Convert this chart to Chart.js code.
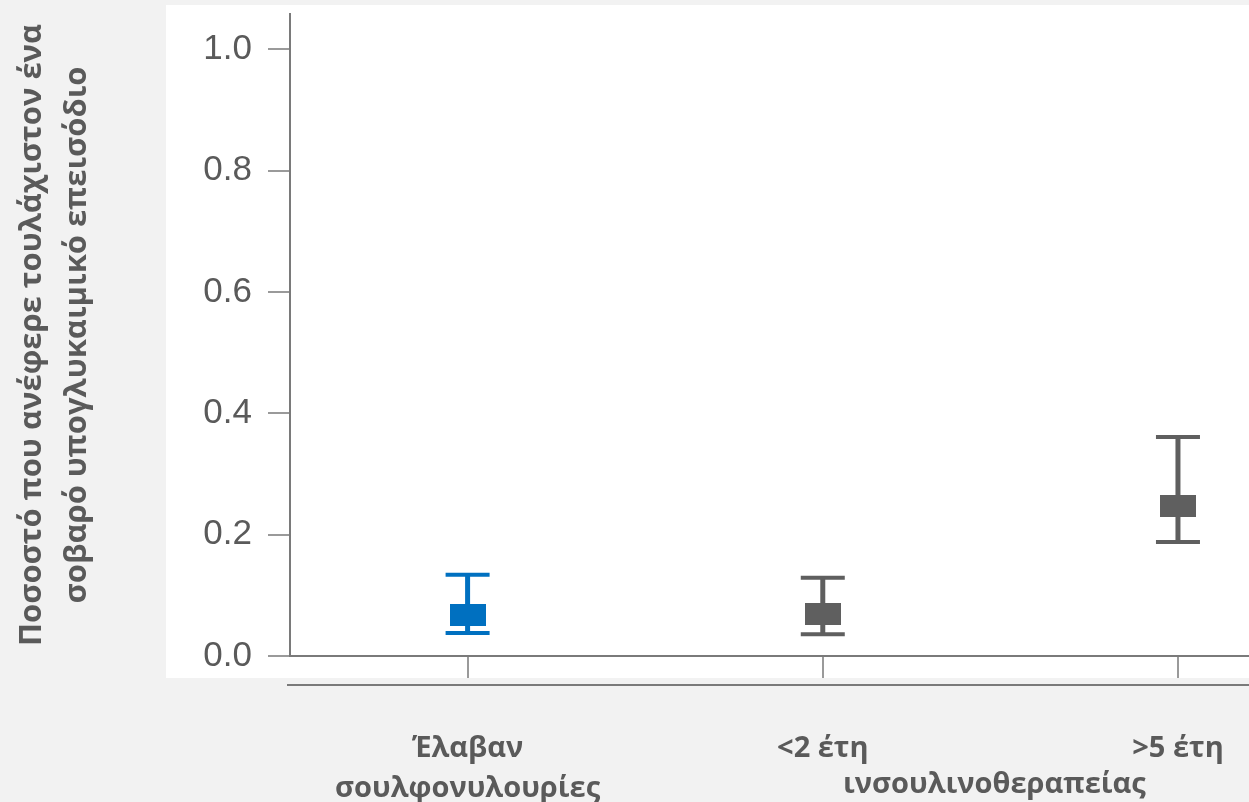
<!DOCTYPE html>
<html>
<head>
<meta charset="utf-8">
<script src="https://cdn.jsdelivr.net/npm/chart.js@4.4.1/dist/chart.umd.min.js"></script>
<style>
  html, body { margin: 0; padding: 0; background: #f2f2f2; }
  #wrap { width: 1249px; height: 802px; }
</style>
</head>
<body>
<div id="wrap"><canvas id="myChart" width="1249" height="802"></canvas></div>
<script>
// data
var categories = [['Έλαβαν', 'σουλφονυλουρίες'], '<2 έτη', '>5 έτη'];
var sharedLabel = 'ινσουλινοθεραπείας';
var means = [0.068, 0.069, 0.248];
var lower = [0.038, 0.036, 0.188];
var upper = [0.134, 0.129, 0.361];
var yTicks = [0.0, 0.2, 0.4, 0.6, 0.8, 1.0];
var yTitle = ['Ποσοστό που ανέφερε τουλάχιστον ένα', 'σοβαρό υπογλυκαιμικό επεισόδιο'];
var colors = ['#0070c0', '#5f5f5f', '#5f5f5f'];

var textGray = '#5a5a5a';

function boxStyle(col) {
    var cv = document.createElement('canvas');
    cv.width = 36;
    cv.height = 22;
    var c = cv.getContext('2d');
    c.fillStyle = col;
    c.fillRect(0, 0, 36, 22);
    return cv;
}

var panel = {
    id: 'panel',
    beforeDraw: function (chart) {
        var c = chart.ctx;
        c.save();
        c.fillStyle = '#f2f2f2';
        c.fillRect(0, 0, chart.width, chart.height);
        c.fillStyle = '#ffffff';
        c.fillRect(166, 5, chart.width - 166, 673);
        c.restore();
    },
    afterDraw: function (chart) {
        var c = chart.ctx;
        var xs = chart.scales.x;
        c.save();
        // second rule under the axis
        c.strokeStyle = '#7a7a7a';
        c.lineWidth = 2;
        c.beginPath();
        c.moveTo(287, 685);
        c.lineTo(chart.width, 685);
        c.stroke();
        // shared label for the two insulin groups
        c.fillStyle = textGray;
        c.font = 'bold 29px "Open Sans"';
        c.textAlign = 'center';
        c.textBaseline = 'middle';
        var mid = (xs.getPixelForValue(1) + xs.getPixelForValue(2)) / 2 - 6;
        c.fillText(sharedLabel, mid, 785);
        c.restore();
    }
};

var whiskers = {
    id: 'whiskers',
    beforeDatasetsDraw: function (chart) {
        var c = chart.ctx;
        var xs = chart.scales.x, ys = chart.scales.y;
        c.save();
        for (var i = 0; i < means.length; i++) {
            var x = xs.getPixelForValue(i);
            var yl = ys.getPixelForValue(lower[i]);
            var yu = ys.getPixelForValue(upper[i]);
            c.strokeStyle = colors[i];
            c.lineWidth = 5;
            c.beginPath();
            c.moveTo(x, yu);
            c.lineTo(x, yl);
            c.stroke();
            c.lineWidth = 4;
            c.beginPath();
            c.moveTo(x - 22, yu);
            c.lineTo(x + 22, yu);
            c.moveTo(x - 22, yl);
            c.lineTo(x + 22, yl);
            c.stroke();
        }
        c.restore();
    }
};

var ctx = document.getElementById('myChart').getContext('2d');
var myChart = new Chart(ctx, {
    type: 'scatter',
    data: {
        datasets: [{
            data: means.map(function (v, i) { return { x: i, y: v }; }),
            pointStyle: colors.map(boxStyle),
            pointRadius: 18,
            pointHoverRadius: 18
        }]
    },
    options: {
        responsive: false,
        animation: false,
        events: [],
        layout: { autoPadding: false, padding: { left: 10, right: 0, top: 14, bottom: 0 } },
        plugins: {
            legend: { display: false },
            tooltip: { enabled: false }
        },
        scales: {
            x: {
                type: 'linear',
                min: -0.5,
                max: 2.2,
                afterBuildTicks: function (scale) {
                    scale.ticks = categories.map(function (c, i) { return { value: i }; });
                },
                afterFit: function (scale) {
                    scale.height = 146;
                    scale.paddingLeft = 0;
                    scale.paddingRight = 0;
                },
                border: { display: true, color: '#7a7a7a', width: 2 },
                grid: { drawOnChartArea: false, tickLength: 22, color: '#9a9a9a', lineWidth: 2 },
                ticks: {
                    autoSkip: false,
                    maxRotation: 0,
                    padding: 50,
                    color: textGray,
                    font: { family: '"Open Sans"', size: 29, weight: 'bold', lineHeight: 1.4 },
                    callback: function (v) { return categories[v]; }
                }
            },
            y: {
                min: 0,
                max: 1.058,
                afterBuildTicks: function (scale) {
                    scale.ticks = yTicks.map(function (v) { return { value: v }; });
                },
                afterFit: function (scale) {
                    scale.width = 280;
                    scale.paddingTop = 0;
                    scale.paddingBottom = 0;
                },
                border: { display: true, color: '#7a7a7a', width: 2 },
                grid: { drawOnChartArea: false, tickLength: 22, color: '#9a9a9a', lineWidth: 2 },
                ticks: {
                    padding: 16,
                    color: textGray,
                    font: { family: '"Liberation Sans"', size: 35 },
                    callback: function (v) { return v.toFixed(1); }
                },
                title: {
                    display: true,
                    text: yTitle,
                    color: textGray,
                    padding: 0,
                    font: { family: '"Open Sans"', size: 31, weight: 'bold', lineHeight: 1.45 }
                }
            }
        }
    },
    plugins: [panel, whiskers]
});
</script>
</body>
</html>
